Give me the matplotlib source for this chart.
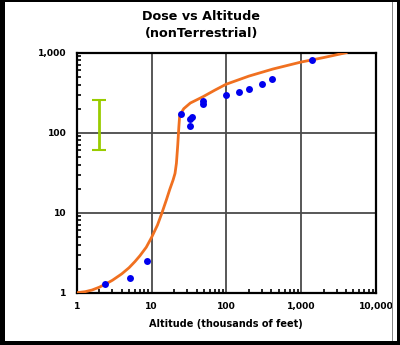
import matplotlib
matplotlib.use("Agg")
import matplotlib.pyplot as plt
from matplotlib.patches import Rectangle
from matplotlib.ticker import FixedLocator, FixedFormatter, LogLocator, NullFormatter

plt.rcParams['font.family'] = ['DejaVu Sans']

# Measured doses (blue points)
alt_pts = [2.4, 5.1, 8.7, 24.4, 32.4, 34.8, 32.4, 48.8, 48.8, 99, 147, 198, 298, 402, 1384]
dose_pts = [1.30, 1.51, 2.49, 173, 150, 157, 121, 247, 228, 296, 323, 352, 406, 465, 810]

# Model curve (orange)
alt_curve = [1, 1.3, 1.6, 2, 2.5, 3, 4, 5, 6, 7, 8.5, 10, 12, 13.8, 15.8, 17.5, 19.4,
             20.6, 21.5, 22.4, 23.2, 23.8, 27, 33, 48.8, 70, 99, 200, 418, 1000, 2000, 3981]
dose_curve = [1, 1.03, 1.08, 1.17, 1.3, 1.43, 1.72, 2.05, 2.45, 2.9, 3.7, 4.9, 7.0, 10,
              14.5, 19.5, 25.6, 31, 41.5, 70, 120, 166, 200, 235, 282, 340, 403, 510,
              625, 765, 870, 1000]

# Terrestrial range bar (green)
bar_x = 1.97
bar_low, bar_high = 61, 254

x_ticks = [1, 10, 100, 1000, 10000]
x_labels = ["1", "10", "100", "1,000", "10,000"]
y_ticks = [1, 10, 100, 1000]
y_labels = ["1", "10", "100", "1,000"]

fig = plt.figure(figsize=(4.0, 3.45), dpi=100)
ax = fig.add_axes([0.1918, 0.1516, 0.7482, 0.6956])

ax.set_xscale('log')
ax.set_yscale('log')
ax.set_xlim(1, 10000)
ax.set_ylim(1, 1000)

ax.grid(True, which='major', color='#4a4a4a', linewidth=1.3)
ax.set_axisbelow(True)

ax.plot(alt_curve, dose_curve, color='#f07020', linewidth=2.0, zorder=3)
ax.plot(alt_pts, dose_pts, 'o', color='#0000ee', markersize=5, markeredgewidth=0, zorder=4)

bar_center = (bar_low * bar_high) ** 0.5
ax.errorbar([bar_x], [bar_center], yerr=[[bar_center - bar_low], [bar_high - bar_center]],
            fmt='none', ecolor='#99cc00', elinewidth=2.0, capsize=5, capthick=1.5, zorder=3)

ax.xaxis.set_major_locator(FixedLocator(x_ticks))
ax.xaxis.set_major_formatter(FixedFormatter(x_labels))
ax.yaxis.set_major_locator(FixedLocator(y_ticks))
ax.yaxis.set_major_formatter(FixedFormatter(y_labels))
ax.xaxis.set_minor_locator(LogLocator(base=10, subs=range(2, 10)))
ax.yaxis.set_minor_locator(LogLocator(base=10, subs=range(2, 10)))
ax.xaxis.set_minor_formatter(NullFormatter())
ax.yaxis.set_minor_formatter(NullFormatter())

ax.tick_params(which='major', length=0, labelsize=6.6)
ax.tick_params(axis='y', which='major', pad=7.5)
ax.tick_params(axis='x', which='major', pad=6.5)
ax.tick_params(which='minor', direction='in', length=3, width=1.2, color='black')
for lab in ax.get_xticklabels() + ax.get_yticklabels():
    lab.set_fontweight('bold')

for s in ax.spines.values():
    s.set_linewidth(1.6)
    s.set_color('black')

ax.set_xlabel("Altitude (thousands of feet)", fontsize=7, fontweight='bold', labelpad=6)

fig.text(0.503, 0.951, "Dose vs Altitude", ha='center', va='center',
         fontsize=9.2, fontweight='bold')
fig.text(0.503, 0.903, "(nonTerrestrial)", ha='center', va='center',
         fontsize=9.2, fontweight='bold')

# Frame around the figure
W, H = 400.0, 345.0
for (x0, y0, w, h, c) in [
    (0, 0, 5 / W, 1, 'black'),
    (0, 0, 1, 4 / H, 'black'),
    (0, 1 - 2 / H, 1, 2 / H, 'black'),
    (1 - 3 / W, 0, 3 / W, 1, 'black'),
    (1 - 8 / W, 4 / H, 1 / W, 1 - 6 / H, '#888888'),
]:
    fig.patches.append(Rectangle((x0, y0), w, h, transform=fig.transFigure,
                                 facecolor=c, edgecolor='none', zorder=10))

fig.savefig("out.png", dpi=100)
